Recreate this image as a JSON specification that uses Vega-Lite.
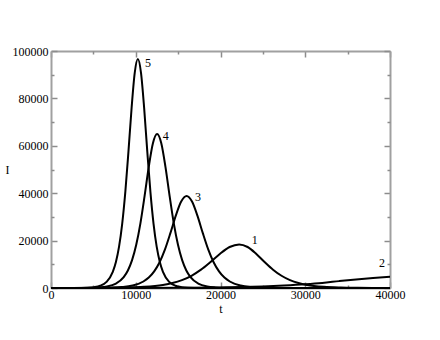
{
  "$schema": "https://vega.github.io/schema/vega-lite/v6.json",
  "width": 339,
  "height": 237,
  "autosize": {"type": "none"},
  "padding": {"left": 51, "top": 51, "right": 50, "bottom": 52},
  "config": {
    "view": {"stroke": null},
    "font": "Liberation Serif",
    "axis": {
      "grid": false,
      "domainColor": "#a0a0a0",
      "domainWidth": 2,
      "tickColor": "#8c8c8c",
      "tickWidth": 1.5,
      "labelFont": "Liberation Serif",
      "labelFontSize": 12,
      "labelColor": "black",
      "labelFlush": false,
      "labelOverlap": false,
      "format": "d",
      "titleFont": "Liberation Serif",
      "titleFontSize": 12,
      "titleFontWeight": "normal",
      "titleColor": "black"
    }
  },
  "datasets": {
    "curves": [
      {"s": "5", "t": 0, "I": 0}, {"s": "5", "t": 2850, "I": 17}, {"s": "5", "t": 4330, "I": 129}, {"s": "5", "t": 5070, "I": 352}, {"s": "5", "t": 5810, "I": 953}, {"s": "5", "t": 6550, "I": 2570}, {"s": "5", "t": 7290, "I": 6830}, {"s": "5", "t": 7660, "I": 10990}, {"s": "5", "t": 8030, "I": 17460}, {"s": "5", "t": 8400, "I": 27090}, {"s": "5", "t": 8770, "I": 40570}, {"s": "5", "t": 9140, "I": 57630}, {"s": "5", "t": 9510, "I": 75970}, {"s": "5", "t": 9880, "I": 90800}, {"s": "5", "t": 10250, "I": 96600}, {"s": "5", "t": 10620, "I": 90800}, {"s": "5", "t": 10990, "I": 75970}, {"s": "5", "t": 11360, "I": 57630}, {"s": "5", "t": 11730, "I": 40570}, {"s": "5", "t": 12100, "I": 27090}, {"s": "5", "t": 12470, "I": 17460}, {"s": "5", "t": 12840, "I": 10990}, {"s": "5", "t": 13210, "I": 6830}, {"s": "5", "t": 13950, "I": 2570}, {"s": "5", "t": 14690, "I": 953}, {"s": "5", "t": 15430, "I": 352}, {"s": "5", "t": 16170, "I": 129}, {"s": "5", "t": 17650, "I": 17}, {"s": "5", "t": 40000, "I": 0},
      {"s": "4", "t": 0, "I": 0}, {"s": "4", "t": 2670, "I": 12}, {"s": "4", "t": 4640, "I": 87}, {"s": "4", "t": 5625, "I": 237}, {"s": "4", "t": 6610, "I": 642}, {"s": "4", "t": 7595, "I": 1730}, {"s": "4", "t": 8580, "I": 4600}, {"s": "4", "t": 9072, "I": 7400}, {"s": "4", "t": 9565, "I": 11750}, {"s": "4", "t": 10057, "I": 18230}, {"s": "4", "t": 10550, "I": 27300}, {"s": "4", "t": 11042, "I": 38780}, {"s": "4", "t": 11535, "I": 51120}, {"s": "4", "t": 12027, "I": 61100}, {"s": "4", "t": 12520, "I": 65000}, {"s": "4", "t": 13013, "I": 61100}, {"s": "4", "t": 13505, "I": 51120}, {"s": "4", "t": 13998, "I": 38780}, {"s": "4", "t": 14490, "I": 27300}, {"s": "4", "t": 14983, "I": 18230}, {"s": "4", "t": 15475, "I": 11750}, {"s": "4", "t": 15968, "I": 7400}, {"s": "4", "t": 16460, "I": 4600}, {"s": "4", "t": 17445, "I": 1730}, {"s": "4", "t": 18430, "I": 642}, {"s": "4", "t": 19415, "I": 237}, {"s": "4", "t": 20400, "I": 87}, {"s": "4", "t": 22370, "I": 12}, {"s": "4", "t": 40000, "I": 0},
      {"s": "3", "t": 0, "I": 0}, {"s": "3", "t": 3250, "I": 7}, {"s": "3", "t": 5800, "I": 52}, {"s": "3", "t": 7075, "I": 141}, {"s": "3", "t": 8350, "I": 383}, {"s": "3", "t": 9625, "I": 1032}, {"s": "3", "t": 10900, "I": 2743}, {"s": "3", "t": 11537, "I": 4415}, {"s": "3", "t": 12175, "I": 7010}, {"s": "3", "t": 12812, "I": 10880}, {"s": "3", "t": 13450, "I": 16300}, {"s": "3", "t": 14087, "I": 23150}, {"s": "3", "t": 14725, "I": 30510}, {"s": "3", "t": 15362, "I": 36470}, {"s": "3", "t": 16000, "I": 38800}, {"s": "3", "t": 16638, "I": 36470}, {"s": "3", "t": 17275, "I": 30510}, {"s": "3", "t": 17913, "I": 23150}, {"s": "3", "t": 18550, "I": 16300}, {"s": "3", "t": 19188, "I": 10880}, {"s": "3", "t": 19825, "I": 7010}, {"s": "3", "t": 20463, "I": 4415}, {"s": "3", "t": 21100, "I": 2743}, {"s": "3", "t": 22375, "I": 1032}, {"s": "3", "t": 23650, "I": 383}, {"s": "3", "t": 24925, "I": 141}, {"s": "3", "t": 26200, "I": 52}, {"s": "3", "t": 28750, "I": 7}, {"s": "3", "t": 40000, "I": 0},
      {"s": "1", "t": 0, "I": 0}, {"s": "1", "t": 4200, "I": 25}, {"s": "1", "t": 6450, "I": 67}, {"s": "1", "t": 8700, "I": 182}, {"s": "1", "t": 10950, "I": 489}, {"s": "1", "t": 13200, "I": 1301}, {"s": "1", "t": 14325, "I": 2094}, {"s": "1", "t": 15450, "I": 3325}, {"s": "1", "t": 16575, "I": 5159}, {"s": "1", "t": 17700, "I": 7728}, {"s": "1", "t": 18825, "I": 10980}, {"s": "1", "t": 19950, "I": 14470}, {"s": "1", "t": 21075, "I": 17300}, {"s": "1", "t": 22200, "I": 18400}, {"s": "1", "t": 23200, "I": 17300}, {"s": "1", "t": 24200, "I": 14470}, {"s": "1", "t": 25200, "I": 10980}, {"s": "1", "t": 26200, "I": 7728}, {"s": "1", "t": 27200, "I": 5159}, {"s": "1", "t": 28200, "I": 3325}, {"s": "1", "t": 29200, "I": 2094}, {"s": "1", "t": 30200, "I": 1301}, {"s": "1", "t": 32200, "I": 489}, {"s": "1", "t": 34200, "I": 182}, {"s": "1", "t": 36200, "I": 67}, {"s": "1", "t": 38200, "I": 25}, {"s": "1", "t": 40000, "I": 10},
      {"s": "2", "t": 0, "I": 0}, {"s": "2", "t": 5000, "I": 10}, {"s": "2", "t": 10000, "I": 30}, {"s": "2", "t": 15000, "I": 90}, {"s": "2", "t": 20000, "I": 250}, {"s": "2", "t": 22500, "I": 420}, {"s": "2", "t": 25000, "I": 680}, {"s": "2", "t": 27500, "I": 1080}, {"s": "2", "t": 30000, "I": 1600}, {"s": "2", "t": 32000, "I": 2150}, {"s": "2", "t": 34000, "I": 2900}, {"s": "2", "t": 36000, "I": 3600}, {"s": "2", "t": 38000, "I": 4200}, {"s": "2", "t": 40000, "I": 4700}
    ],
    "labels": [
      {"s": "5", "t": 11090, "I": 95080},
      {"s": "4", "t": 13180, "I": 64230},
      {"s": "3", "t": 16990, "I": 38400},
      {"s": "1", "t": 23680, "I": 20260},
      {"s": "2", "t": 38700, "I": 10550}
    ]
  },
  "resolve": {"axis": {"x": "independent", "y": "independent"}},
  "layer": [
    {
      "data": {"name": "curves"},
      "mark": {"type": "line", "color": "black", "strokeWidth": 2, "interpolate": "monotone"},
      "encoding": {
        "x": {"field": "t", "type": "quantitative", "scale": {"domain": [0, 40000], "nice": false},
          "axis": {"orient": "bottom", "values": [0, 10000, 20000, 30000, 40000], "format": "d", "labelFont": "Liberation Serif", "tickSize": -6, "labelPadding": 7, "title": "t", "titleY": 20, "titleBaseline": "middle"}},
        "y": {"field": "I", "type": "quantitative", "scale": {"domain": [0, 100000], "nice": false},
          "axis": {"orient": "left", "values": [0, 20000, 40000, 60000, 80000, 100000], "format": "d", "labelFont": "Liberation Serif", "tickSize": -6, "labelPadding": 9, "title": "I", "titleAngle": 0, "titleX": -44, "titleY": 118, "titleAlign": "center", "titleBaseline": "middle"}},
        "detail": {"field": "s"}
      }
    },
    {
      "data": {"name": "labels"},
      "mark": {"type": "text", "align": "left", "baseline": "middle", "font": "Liberation Serif", "fontSize": 12, "color": "black"},
      "encoding": {
        "x": {"field": "t", "type": "quantitative",
          "axis": {"orient": "bottom", "values": [5000, 15000, 25000, 35000], "tickSize": -3, "labels": false, "domain": false, "title": null}},
        "y": {"field": "I", "type": "quantitative",
          "axis": {"orient": "left", "values": [10000, 30000, 50000, 70000, 90000], "tickSize": -3, "labels": false, "domain": false, "title": null}},
        "text": {"field": "s"}
      }
    },
    {
      "data": {"name": "labels"},
      "mark": {"type": "point", "opacity": 0},
      "encoding": {
        "x": {"field": "t", "type": "quantitative",
          "axis": {"orient": "top", "values": [0, 10000, 20000, 30000, 40000], "tickSize": -6, "labels": false, "title": null}},
        "y": {"field": "I", "type": "quantitative",
          "axis": {"orient": "right", "values": [0, 20000, 40000, 60000, 80000, 100000], "tickSize": -6, "labels": false, "title": null}}
      }
    },
    {
      "data": {"name": "labels"},
      "mark": {"type": "point", "opacity": 0},
      "encoding": {
        "x": {"field": "t", "type": "quantitative",
          "axis": {"orient": "top", "values": [5000, 15000, 25000, 35000], "tickSize": -3, "labels": false, "domain": false, "title": null}},
        "y": {"field": "I", "type": "quantitative",
          "axis": {"orient": "right", "values": [10000, 30000, 50000, 70000, 90000], "tickSize": -3, "labels": false, "domain": false, "title": null}}
      }
    }
  ]
}
